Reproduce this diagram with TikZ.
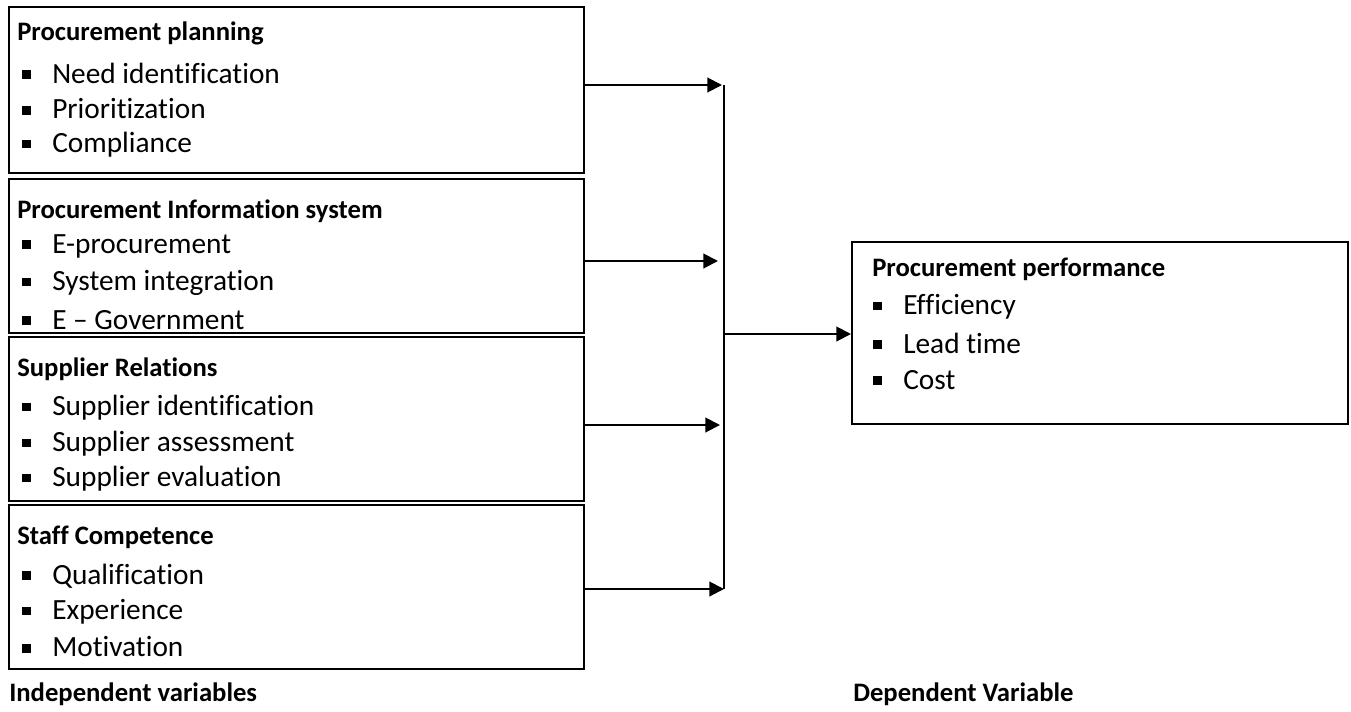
\documentclass[tikz,border=0pt]{standalone}
\usepackage{fontspec}
\setmainfont{Carlito}[Ligatures=NoCommon]
\usetikzlibrary{arrows.meta}
\newcommand{\bul}{\makebox[22.5pt][l]{\rule[3.3pt]{6.5pt}{6.5pt}}}
\tikzset{
  vbox/.style={draw=black, line width=1.5pt, rectangle, inner sep=0pt},
  ttl/.style={anchor=west, inner sep=0pt, font=\fontsize{20}{24}\selectfont\bfseries},
  itm/.style={anchor=west, inner sep=0pt, font=\fontsize{22}{26}\selectfont},
  arr/.style={line width=1.5pt, -{Triangle[length=11pt,width=11pt]}},
  ln/.style={line width=1.5pt}
}
\begin{document}
\begin{tikzpicture}[x=0.75pt,y=-0.75pt]
\useasboundingbox (0,0) rectangle (1351,711);
% boxes
\node[vbox, minimum width=431.25pt, minimum height=124.5pt] (b1) at (296.5,90) {};
\node[vbox, minimum width=431.25pt, minimum height=115.5pt] (b2) at (296.5,256) {};
\node[vbox, minimum width=431.25pt, minimum height=123pt] (b3) at (296.5,419) {};
\node[vbox, minimum width=431.25pt, minimum height=123pt] (b4) at (296.5,587) {};
\node[vbox, minimum width=372pt, minimum height=136.5pt] (pp) at (1100,333) {};
% box 1
\node[ttl] (t1) at (17,33) {Procurement planning};
\node[itm] (t1a) at (22,73) {\bul Need identification};
\node[itm] (t1b) at (22,109) {\bul Prioritization};
\node[itm] (t1c) at (22,145) {\bul Compliance};
% box 2
\node[ttl] (t2) at (17,211) {Procurement Information system};
\node[itm] (t2a) at (22,246) {\bul E-procurement};
\node[itm] (t2b) at (22,283) {\bul System integration};
\begin{scope}
\clip (10,180) rectangle (583,330);
\node[itm] (t2c) at (22,320) {\bul E -- Government};
\end{scope}
% box 3
\node[ttl] (t3) at (17,369) {Supplier Relations};
\node[itm] (t3a) at (22,408) {\bul Supplier identification};
\node[itm] (t3b) at (22,444) {\bul Supplier assessment};
\node[itm] (t3c) at (22,479) {\bul Supplier evaluation};
% box 4
\node[ttl] (t4) at (17,537) {Staff Competence};
\node[itm] (t4a) at (22,576) {\bul Qualification};
\node[itm] (t4b) at (22,612) {\bul Experience};
\node[itm] (t4c) at (22,647) {\bul Motivation};
% right box
\node[ttl] (t5) at (872,269) {Procurement performance};
\node[itm] (t5a) at (873,307) {\bul Efficiency};
\node[itm] (t5b) at (873,343) {\bul Lead time};
\node[itm] (t5c) at (873,380) {\bul Cost};
% captions
\node[ttl] (c1) at (9,694) {Independent variables};
\node[ttl] (c2) at (853,694) {Dependent Variable};
% connectors
\coordinate (a1) at (722,85);
\coordinate (a2) at (718,261);
\coordinate (a3) at (720,425);
\coordinate (a4) at (724,589);
\coordinate (v1) at (724,85);
\coordinate (v4) at (724,589);
\coordinate (vm) at (724,334);
\draw[arr] (b1.east |- a1) -- (a1);
\draw[arr] (b2.east |- a2) -- (a2);
\draw[arr] (b3.east |- a3) -- (a3);
\draw[arr] (b4.east |- a4) -- (a4);
\draw[ln] (v1) -- (v4);
\draw[arr] (vm) -- (pp.west |- vm);
\end{tikzpicture}
\end{document}
